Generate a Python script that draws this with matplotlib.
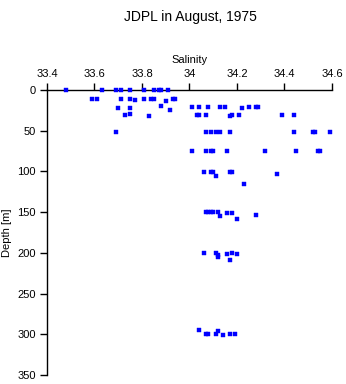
import matplotlib
matplotlib.use('Agg')
import matplotlib.pyplot as plt

plt.rcParams['font.family'] = ['Liberation Sans', 'DejaVu Sans']

# JDPL station, August 1975: salinity vs depth
salinity = [
    33.48, 33.63, 33.69, 33.71, 33.75, 33.81, 33.85, 33.87, 33.88, 33.91,
    33.59, 33.61, 33.71, 33.75, 33.77, 33.81, 33.84, 33.85, 33.90, 33.93, 33.94,
    33.70, 33.75, 33.88, 33.92,
    33.73, 33.75, 33.83,
    33.69,
    34.01, 34.04, 34.08, 34.13, 34.15, 34.22, 34.25, 34.28, 34.29,
    34.03, 34.04, 34.07, 34.17, 34.18, 34.21, 34.39, 34.44,
    34.07, 34.09, 34.11, 34.13, 34.17, 34.44, 34.52, 34.53, 34.59,
    34.01, 34.07, 34.09, 34.10, 34.16, 34.32, 34.45, 34.54, 34.55,
    34.06, 34.09, 34.10, 34.17, 34.18, 34.37, 34.11, 34.23,
    34.07, 34.08, 34.09, 34.10, 34.12, 34.13, 34.16, 34.18, 34.20, 34.28,
    34.06, 34.11, 34.12, 34.12, 34.16, 34.18, 34.20, 34.17,
    34.04, 34.07, 34.08, 34.11, 34.12, 34.14, 34.17, 34.19,
]
depth = [
    0, 0, 0, 0, 0, 0, 0, 0, 0, 0,
    11, 11, 11, 11, 12, 11, 11, 11, 13, 11, 11,
    22, 22, 20, 24,
    31, 30, 32,
    51,
    21, 21, 21, 21, 21, 22, 21, 21, 21,
    31, 31, 31, 32, 31, 31, 31, 31,
    51, 51, 51, 51, 52, 52, 51, 51, 51,
    75, 75, 75, 75, 75, 75, 75, 75, 75,
    101, 101, 101, 101, 101, 103, 106, 115,
    150, 150, 150, 150, 150, 155, 151, 151, 159, 153,
    200, 200, 203, 205, 202, 200, 201, 209,
    295, 300, 300, 300, 296, 301, 300, 300,
]

fig = plt.figure(figsize=(3.46, 3.84), dpi=100)
ax = fig.add_axes([0.1358, 0.0234, 0.8237, 0.7422])

ax.plot(salinity, depth, 's', color='#0000ff', markersize=2.3,
        markeredgewidth=0.3, linestyle='none', clip_on=False, zorder=3)

ax.set_xlim(33.4, 34.6)
ax.set_ylim(350, 0)
ax.set_xticks([33.4, 33.6, 33.8, 34.0, 34.2, 34.4, 34.6])
ax.set_xticklabels(['33.4', '33.6', '33.8', '34', '34.2', '34.4', '34.6'])
ax.set_yticks(range(0, 351, 50))

ax.xaxis.tick_top()
ax.xaxis.set_label_position('top')
for side in ('right', 'bottom'):
    ax.spines[side].set_visible(False)
for side in ('left', 'top'):
    ax.spines[side].set_linewidth(1.0)
    ax.spines[side].set_zorder(2)

ax.tick_params(axis='both', direction='out', length=5, width=1,
               labelsize=8, pad=3)
ax.set_xlabel('Salinity', fontsize=8, labelpad=4)
ax.set_ylabel('Depth [m]', fontsize=8, labelpad=4)

fig.text(0.55, 0.955, 'JDPL in August, 1975', ha='center', va='center',
         fontsize=10)

fig.savefig('out.png', dpi=100)
